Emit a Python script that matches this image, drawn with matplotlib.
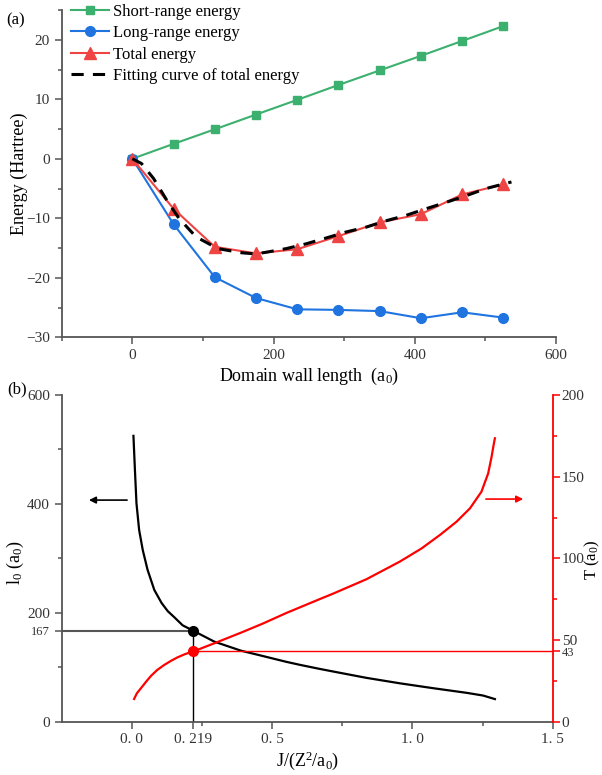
import numpy as np
import matplotlib
matplotlib.use("Agg")
import matplotlib.pyplot as plt
from matplotlib.ticker import MultipleLocator, FixedLocator

plt.rcParams["font.family"] = ["Liberation Serif", "DejaVu Serif"]
plt.rcParams["mathtext.fontset"] = "custom"
plt.rcParams["mathtext.rm"] = "Liberation Serif"
plt.rcParams["mathtext.it"] = "Liberation Serif:italic"

# (a) energies vs domain wall length
wall_length = [0, 58.4, 116.8, 175.2, 233.6, 292.0, 350.4, 408.8, 467.2, 525.6]
short_range = [0, 2.5, 4.95, 7.43, 9.9, 12.4, 14.85, 17.3, 19.8, 22.3]
long_range = [0, -11.0, -19.9, -23.4, -25.3, -25.4, -25.6, -26.8, -25.8, -26.7]
total_energy = [0, -8.4, -14.8, -15.9, -15.2, -13.0, -10.7, -9.3, -6.0, -4.3]

fit_length = [0, 13, 30, 49, 66, 90, 121, 155, 175, 190, 218, 246, 275,
              303, 331, 360, 388, 416, 445, 473, 501, 537]
fit_energy = [0, -0.8, -3.3, -7.0, -10.0, -13.1, -15.1, -15.8, -16.0, -15.7,
              -15.1, -14.3, -13.3, -12.3, -11.5, -10.4, -9.5, -8.4, -7.3,
              -6.2, -5.0, -3.9]

# (b) optimal wall length l0 and period T vs J
j_l0 = [0.0057, 0.011, 0.0165, 0.026, 0.039, 0.056, 0.080, 0.106, 0.128,
        0.151, 0.181, 0.219, 0.294, 0.389, 0.466, 0.550, 0.598, 0.669,
        0.716, 0.836, 0.955, 1.074, 1.193, 1.252, 1.294]
l0_vals = [525, 462, 401, 352, 315, 279, 242, 218, 203, 192, 177, 167, 147,
           130.4, 120.7, 110, 104.5, 97, 92.3, 80.5, 70.5, 61.5, 53, 48, 41.5]

j_t = [0.008, 0.018, 0.032, 0.050, 0.068, 0.090, 0.115, 0.140, 0.163, 0.190,
       0.219, 0.294, 0.389, 0.466, 0.550, 0.669, 0.716, 0.836, 0.955, 1.032,
       1.098, 1.157, 1.205, 1.246, 1.270, 1.282, 1.290, 1.294]
t_vals = [13.9, 17.4, 20.4, 24.3, 28.0, 31.6, 34.7, 37.3, 39.4, 41.4, 43.0,
          48.0, 54.5, 60.0, 66.5, 75.0, 78.3, 87.2, 98.0, 106.0, 114.3, 122.4,
          130.6, 140.8, 152.0, 162.0, 170.0, 173.5]

j_opt = 0.219
l0_opt = 167
t_opt = 43

GREEN = "#3cb06e"
BLUE = "#1f74e0"
RED_A = "#ee4444"
RED = "#ff0000"
SPINE = "#555555"
TXT = "#333333"

fig = plt.figure(figsize=(6.02, 7.75), dpi=100)
ax = fig.add_axes([0.1025, 0.5648, 0.821, 0.4223])
axb = fig.add_axes([0.1025, 0.0688, 0.8156, 0.4215])


def style_axis(a):
    for side in ("top", "right"):
        a.spines[side].set_visible(False)
    for side in ("left", "bottom"):
        a.spines[side].set_color(SPINE)
        a.spines[side].set_linewidth(1.3)
    a.tick_params(which="both", direction="out", colors=SPINE,
                  labelcolor=TXT, labelsize=11, width=1.1)
    a.tick_params(which="major", length=5)
    a.tick_params(which="minor", length=3)


# ---- panel (a)
style_axis(ax)
ax.plot(wall_length, short_range, color=GREEN, lw=1.5, marker="s", ms=6,
        label="Short-range energy")
ax.plot(wall_length, long_range, color=BLUE, lw=1.5, marker="o", ms=7,
        label="Long-range energy")
ax.plot(wall_length, total_energy, color=RED_A, lw=1.5, marker="^", ms=8,
        label="Total energy")
ax.plot(fit_length, fit_energy, color="black", lw=2.2, ls=(0, (4, 3)),
        label="Fitting curve of total energy")
ax.set_xlim(-100, 600)
ax.set_ylim(-30, 25)
ax.xaxis.set_major_locator(FixedLocator([0, 200, 400, 600]))
ax.xaxis.set_minor_locator(MultipleLocator(100))
ax.yaxis.set_major_locator(FixedLocator([-30, -20, -10, 0, 10, 20]))
ax.yaxis.set_minor_locator(MultipleLocator(5))
ax.set_xlabel(r"Domain wall length  (a$_0$)", fontsize=13, va="center")
ax.set_ylabel("Energy (Hartree)", fontsize=13, va="center")
ax.xaxis.set_label_coords(0.5, -0.121)
ax.yaxis.set_label_coords(-0.086, 0.5)
ax.legend(loc="upper left", bbox_to_anchor=(0.104, 1.006),
          bbox_transform=fig.transFigure, frameon=False, fontsize=12,
          borderpad=0, labelspacing=0.33, handlelength=2.3,
          handletextpad=0.2)
fig.text(0.0266, 0.9733, "(a)", fontsize=12, ha="center", va="center")

# ---- panel (b)
style_axis(axb)
axb.plot(j_l0, l0_vals, color="black", lw=1.6)
axb.plot([-0.25, j_opt], [l0_opt, l0_opt], color=SPINE, lw=1.5)
axb.plot([j_opt, j_opt], [0, l0_opt], color="black", lw=1.0)
axb.plot([j_opt], [l0_opt], "o", color="black", ms=7, zorder=5)
axb.set_xlim(-0.25, 1.5)
axb.set_ylim(0, 600)
axb.xaxis.set_major_locator(FixedLocator([0, j_opt, 0.5, 1.0, 1.5]))
axb.set_xticklabels(["0. 0", "0. 219", "0. 5", "1. 0", "1. 5"])
axb.xaxis.set_minor_locator(FixedLocator([0.25, 0.75, 1.25]))
axb.yaxis.set_major_locator(FixedLocator([0, l0_opt, 200, 400, 600]))
axb.set_yticklabels(["0", "167", "200", "400", "600"])
axb.get_yticklabels()[1].set_fontsize(9)
axb.yaxis.set_minor_locator(FixedLocator([100, 300, 500]))
axb.set_xlabel(r"J/(Z$^2$/a$_0$)", fontsize=13, va="center")
axb.set_ylabel(r"l$_0$ (a$_0$)", fontsize=13, va="center")
axb.xaxis.set_label_coords(0.5, -0.12)
axb.yaxis.set_label_coords(-0.095, 0.486)
axb.annotate("", xy=(-0.153, 407), xytext=(-0.017, 407),
             arrowprops=dict(arrowstyle="-|>", color="black", lw=1.2,
                             mutation_scale=10, shrinkA=0, shrinkB=0))

axt = axb.twinx()
axt.plot(j_t, t_vals, color=RED, lw=1.6)
axt.plot([j_opt, 1.5], [t_opt, t_opt], color=RED, lw=1.0)
axt.plot([j_opt], [t_opt], "o", color=RED, ms=7, zorder=5)
axt.set_ylim(0, 200)
for side in ("top", "left", "bottom"):
    axt.spines[side].set_visible(False)
axt.spines["right"].set_color(RED)
axt.spines["right"].set_linewidth(1.3)
axt.tick_params(which="both", direction="out", colors=RED,
                labelcolor=TXT, labelsize=11, width=1.1, pad=1.5)
axt.tick_params(which="major", length=5)
axt.tick_params(which="minor", length=3)
axt.yaxis.set_major_locator(FixedLocator([0, t_opt, 50, 100, 150, 200]))
axt.set_yticklabels(["0", "43", "50", "100", "150", "200"])
axt.get_yticklabels()[1].set_fontsize(9)
axt.yaxis.set_minor_locator(FixedLocator([25, 75, 125, 175]))
axt.set_ylabel(r"T (a$_0$)", fontsize=12, va="center")
axt.yaxis.set_label_coords(1.081, 0.495)
axt.annotate("", xy=(1.395, 136.3), xytext=(1.262, 136.3),
             arrowprops=dict(arrowstyle="-|>", color=RED, lw=1.2,
                             mutation_scale=10, shrinkA=0, shrinkB=0))
fig.text(0.028, 0.498, "(b)", fontsize=12, ha="center", va="center")

fig.savefig("out.png", dpi=100)
